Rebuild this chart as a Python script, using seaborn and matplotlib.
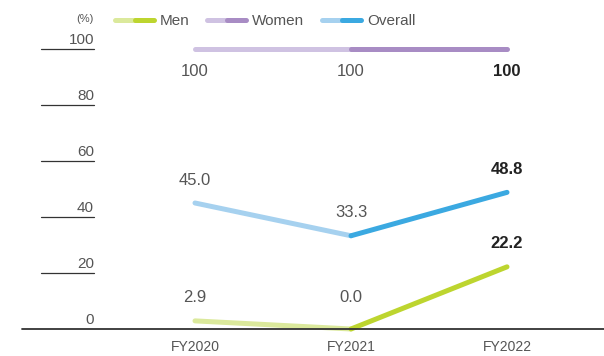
import matplotlib
matplotlib.use("Agg")
import matplotlib.pyplot as plt
from matplotlib.lines import Line2D
import pandas as pd
import seaborn as sns

# Data
years = ["FY2020", "FY2021", "FY2022"]
men = [2.9, 0.0, 22.2]
women = [100, 100, 100]
overall = [45.0, 33.3, 48.8]
yticks = [0, 20, 40, 60, 80, 100]

series = {
    "Men": (men, "#dbe99c", "#bdd52f", "below"),
    "Women": (women, "#cfc2e2", "#a88cc4", "above"),
    "Overall": (overall, "#a6d1ef", "#3ba9e1", "below"),
}

sns.set_theme(style="white")
plt.rcParams["font.family"] = ["Liberation Sans", "DejaVu Sans"]

W, H, DPI = 604, 356, 100
PT = 72 / DPI
fig = plt.figure(figsize=(W / DPI, H / DPI), dpi=DPI)
ax = fig.add_axes([0, 0, 1, 1])
ax.set_axis_off()

# pixel layout of the plotting region
x0_px, dx_px = 195, 156      # first category position, spacing
y0_px, py_per = 27, 2.8      # zero line height above bottom, px per unit
ax.set_xlim(-x0_px / dx_px, (W - x0_px) / dx_px)
ax.set_ylim(-y0_px / py_per, (H - y0_px) / py_per)

text_col = "#555555"
bold_col = "#222222"
lw = 3.6

rows = []
for name, (vals, light, dark, _) in series.items():
    for i, (yr, v) in enumerate(zip(years, vals)):
        rows.append({"series": name, "idx": i, "year": yr, "value": v})
df = pd.DataFrame(rows)

for name, (vals, light, dark, pos) in series.items():
    sub = df[df["series"] == name]
    first = sub[sub["idx"] <= 1]
    second = sub[sub["idx"] >= 1]
    sns.lineplot(data=first, x="idx", y="value", color=light, lw=lw,
                 ax=ax, solid_capstyle="round", zorder=3)
    sns.lineplot(data=second, x="idx", y="value", color=dark, lw=lw,
                 ax=ax, solid_capstyle="round", zorder=4)
    for i, v in enumerate(vals):
        last = i == len(vals) - 1
        if pos == "above":
            off = -22
        else:
            off = 23 if v > 0 else 31
        ax.annotate(f"{v:.1f}" if name != "Women" else f"{v:.0f}",
                    (i, v), xytext=(0, off * PT), textcoords="offset points",
                    ha="center", va="center", fontsize=12,
                    color=bold_col if last else text_col,
                    fontweight="bold" if last else "normal")

# baseline and y ticks
ax.axhline(0, xmin=22 / W, xmax=1, color="#333333", lw=1.3, zorder=5)
for t in yticks:
    if t > 0:
        ax.axhline(t, xmin=41 / W, xmax=94 / W, color="#333333", lw=0.9)
    ax.annotate(str(t), (94 / W, t), xycoords=("figure fraction", "data"),
                xytext=(0, 9 * PT), textcoords="offset points",
                ha="right", va="center", fontsize=11, color=text_col)

# x category labels
for i, yr in enumerate(years):
    ax.annotate(yr, (i, 0), xytext=(0, -18 * PT), textcoords="offset points",
                ha="center", va="center", fontsize=10, color=text_col)

# unit and legend
fig.text(94 / W, 1 - 19 / H, "(%)", ha="right", va="center", fontsize=8, color=text_col)
legend_items = [("Men", 115), ("Women", 207), ("Overall", 322)]
for name, xs in legend_items:
    _, light, dark, _ = series[name]
    yl = 1 - 20 / H
    fig.add_artist(Line2D([xs / W, (xs + 20) / W], [yl, yl], color=light, lw=lw,
                          solid_capstyle="round", transform=fig.transFigure))
    fig.add_artist(Line2D([(xs + 20) / W, (xs + 39) / W], [yl, yl], color=dark, lw=lw,
                          solid_capstyle="round", transform=fig.transFigure))
    fig.text((xs + 45) / W, 1 - 21 / H, name, ha="left", va="center",
             fontsize=11, color=text_col)

fig.savefig("out.png", dpi=DPI)
